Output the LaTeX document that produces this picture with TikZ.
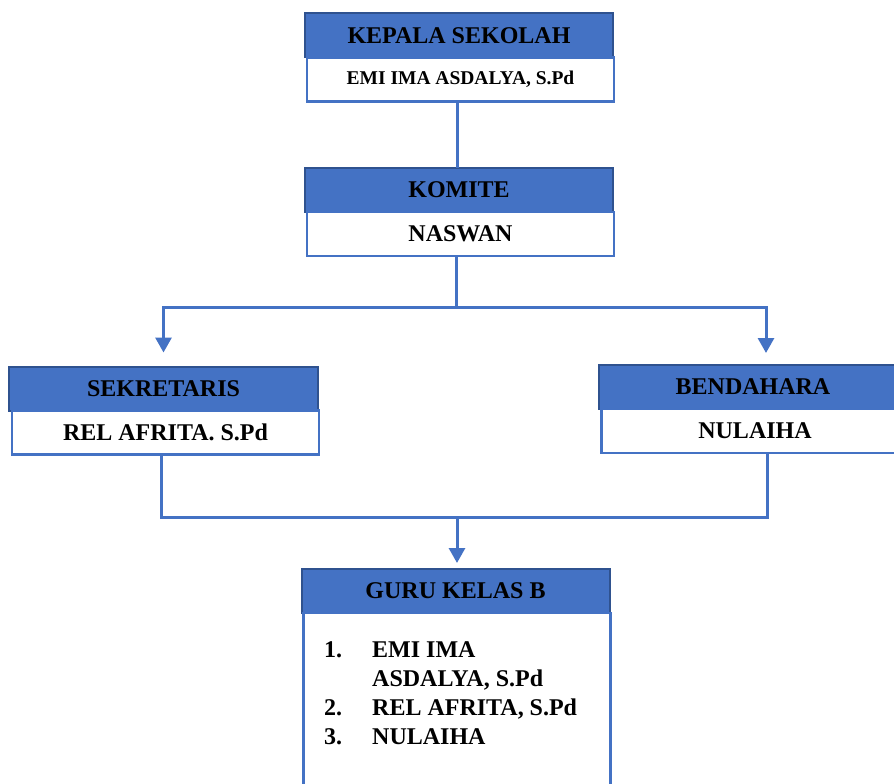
\documentclass[tikz,border=0pt]{standalone}
\usepackage{fontspec}
\setmainfont{Liberation Serif}
\usetikzlibrary{arrows.meta,positioning}
\definecolor{headblue}{RGB}{68,114,196}
\definecolor{edgeblue}{RGB}{47,82,143}

\begin{document}
\begin{tikzpicture}[x=1pt, y=-1pt,
    head/.style={rectangle, draw=edgeblue, fill=headblue, line width=2pt, minimum width=308pt, minimum height=44pt, inner sep=0pt, outer sep=0pt, font=\fontsize{24}{28}\selectfont\bfseries},
    namebox/.style={rectangle, draw=headblue, fill=white, line width=2.5pt, minimum width=307pt, minimum height=44pt, inner sep=0pt, outer sep=0pt, font=\fontsize{24}{28}\selectfont\bfseries},
    link/.style={draw=headblue, line width=3pt},
    arr/.style={link, -{Triangle[width=16pt,length=15pt]}},
    node distance=0pt
]
    \useasboundingbox (0,0) rectangle (894,784);

    % kepala sekolah
    \node[head] (kephead) at (459,35.5) {KEPALA SEKOLAH};
    \node[namebox, below=of kephead, xshift=1.5pt, font=\fontsize{19.5}{24}\selectfont\bfseries] (kepname) {EMI IMA ASDALYA, S.Pd};

    % komite
    \node[head] (komhead) at (459,190) {KOMITE};
    \node[namebox, below=of komhead, xshift=1.5pt] (komname) {NASWAN};

    % sekretaris & bendahara
    \node[head, minimum width=309pt] (sekhead) at (163.5,388.5) {SEKRETARIS};
    \node[namebox, below=of sekhead, xshift=2pt] (sekname) {REL AFRITA. S.Pd};
    \node[head] (benhead) at (753,387) {BENDAHARA};
    \node[namebox, below=of benhead, xshift=2pt] (benname) {NULAIHA};

    % guru
    \node[head] (guruhead) at (455.5,591) {GURU KELAS B};
    \node[namebox, below=of guruhead, xshift=1.5pt, minimum height=190pt] (gurubody) {};
    \node[anchor=base west, inner sep=0pt, font=\fontsize{24}{29.3}\selectfont\bfseries] (gurulist) at (324,657) {%
        \begin{tabular}[t]{@{}p{48pt}@{}l@{}}
        1. & EMI IMA\\
           & ASDALYA, S.Pd\\
        2. & REL AFRITA, S.Pd\\
        3. & NULAIHA
        \end{tabular}};

    \coordinate (split) at (457,307);
    \coordinate (merge) at (457,517);

    % connectors
    \draw[link] ([xshift=-3pt]kepname.south) -- ([xshift=-3pt]kepname.south |- komhead.north);
    \draw[link] ([xshift=-4pt]komname.south) -- ([xshift=-4pt]komname.south |- split);
    \draw[arr] (split) -| ([yshift=14pt]sekhead.north);
    \draw[arr] (split) -| ([xshift=13pt,yshift=12pt]benhead.north);
    \draw[link] ([xshift=-4.5pt]sekname.south) |- (merge) -| ([xshift=12pt]benname.south);
    \draw[arr] (merge) -- ([xshift=1.5pt,yshift=6pt]guruhead.north);
\end{tikzpicture}
\end{document}
